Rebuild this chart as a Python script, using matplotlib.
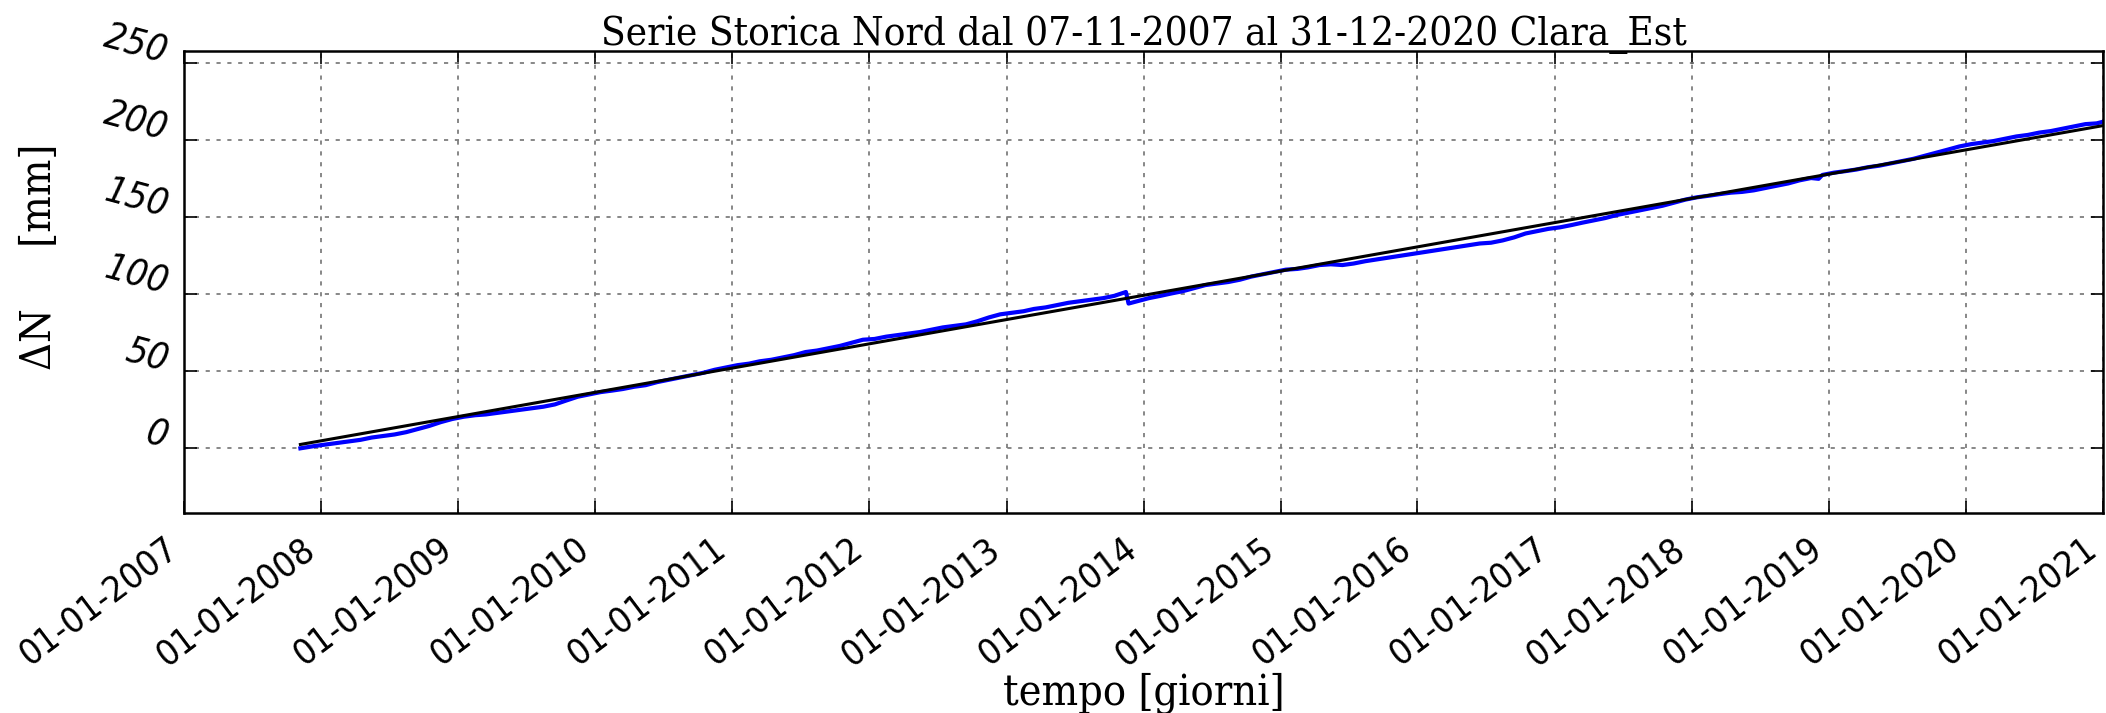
import matplotlib
matplotlib.use("Agg")
import matplotlib.pyplot as plt
import matplotlib.dates as mdates
import pandas as pd

# monthly readings (15th of month), first block Dec 2007 - Aug 2015
seg_a_first, seg_a_last = "2007-12-01", "2015-08-01"
seg_a_mm = [
    1.5,
    2.5, 3.5, 4.5, 5.5, 7.0, 8.0, 9.0, 10.5, 12.5, 14.5, 17.0, 19.0,
    20.5, 21.5, 22.0, 23.0, 24.0, 25.0, 26.0, 27.0, 28.5, 31.0, 33.5, 35.0,
    36.5, 37.5, 38.5, 40.0, 41.0, 43.0, 44.5, 46.0, 47.5, 49.0, 51.0, 52.5,
    54.0, 55.0, 56.5, 57.5, 59.0, 60.5, 62.5, 63.5, 65.0, 66.5, 68.5, 70.5,
    71.0, 72.5, 73.5, 74.5, 75.5, 77.0, 78.5, 79.5, 80.5, 82.5, 85.0, 87.0,
    88.0, 89.0, 90.5, 91.5, 93.0, 94.5, 95.5, 96.5, 97.5, 99.0, 101.5, 95.5,
    97.5, 99.0, 100.5, 102.0, 104.0, 106.0, 107.0, 108.0, 109.5, 111.5, 113.0, 114.5,
    116.0, 116.5, 117.5, 119.0, 119.5, 119.0, 120.0, 121.5,
]
# second block after the data gap, Jun 2016 - Dec 2020
seg_b_first, seg_b_last = "2016-06-01", "2020-12-01"
seg_b_mm = [
    133.0, 133.5, 135.0, 137.0, 139.5, 141.0, 142.5,
    143.5, 145.0, 146.5, 148.0, 149.5, 151.5, 153.0, 154.5, 156.0, 157.5, 159.5, 161.5,
    163.0, 164.0, 165.0, 166.0, 166.5, 167.5, 169.0, 170.5, 172.0, 174.0, 175.5, 177.5,
    179.0, 180.0, 181.0, 182.5, 183.5, 185.0, 186.5, 188.0, 190.0, 192.0, 194.0, 196.0,
    197.5, 198.5, 199.5, 201.0, 202.5, 203.5, 205.0, 206.0, 207.5, 209.0, 210.5, 211.0,
]
# single readings: first day, jump of Nov 2013, dip, last day
extra_dates = ["2007-11-07", "2013-11-22", "2018-12-05", "2020-12-31"]
extra_mm = [0.0, 94.0, 175.0, 212.0]

# linear trend
fit_dates = ["2007-11-07", "2020-12-31"]
fit_mm = [2.5, 209.5]

yticks = [0, 50, 100, 150, 200, 250]
years = list(range(2007, 2022))

mid = pd.Timedelta(days=14)
dates_a = pd.date_range(seg_a_first, seg_a_last, freq="MS") + mid
dates_b = pd.date_range(seg_b_first, seg_b_last, freq="MS") + mid
series = pd.concat([
    pd.Series(seg_a_mm, index=dates_a),
    pd.Series(seg_b_mm, index=dates_b),
    pd.Series(extra_mm, index=pd.to_datetime(extra_dates)),
]).sort_index()

serif = dict(family="DejaVu Serif", stretch="condensed")
sans = dict(family="DejaVu Sans", stretch="condensed")

fig = plt.figure(figsize=(21.06, 7.13), dpi=100)
ax = fig.add_axes([0.0874, 0.2805, 0.9112, 0.648])

ax.plot(series.index, series.values, color="#0000ff", linewidth=3.0)
ax.plot(pd.to_datetime(fit_dates), fit_mm, color="black", linewidth=2.2)

ax.set_xlim(pd.Timestamp("2007-01-01"), pd.Timestamp("2021-01-01"))
ax.set_ylim(-42, 258)
ax.set_xticks([pd.Timestamp(f"{y}-01-01") for y in years])
ax.xaxis.set_major_formatter(mdates.DateFormatter("%d-%m-%Y"))
ax.set_yticks(yticks)

ax.grid(True, color="0.45", linestyle=(0, (2.5, 4)), linewidth=1.2)
ax.tick_params(direction="in", top=True, right=True, length=9, width=1.2)
for s in ax.spines.values():
    s.set_linewidth(1.8)

ax.tick_params(axis="y", pad=14)
ax.tick_params(axis="x", pad=13)
for lab in ax.get_xticklabels():
    lab.set(rotation=37, ha="right", fontsize=26, **sans)
for lab in ax.get_yticklabels():
    lab.set(rotation=-15, rotation_mode="anchor", ha="right", va="baseline",
            fontsize=27, style="oblique", **sans)

ax.set_title("Serie Storica Nord dal 07-11-2007 al 31-12-2020 Clara_Est",
             fontsize=29, pad=4, **serif)
ax.set_xlabel("tempo [giorni]", fontsize=31, **serif)
ax.set_ylabel("ΔN     [mm]", fontsize=31, **serif)
ax.yaxis.set_label_coords(-0.0646, 0.555)
ax.xaxis.set_label_coords(0.5, -0.345)

fig.savefig("out.png", dpi=100)
